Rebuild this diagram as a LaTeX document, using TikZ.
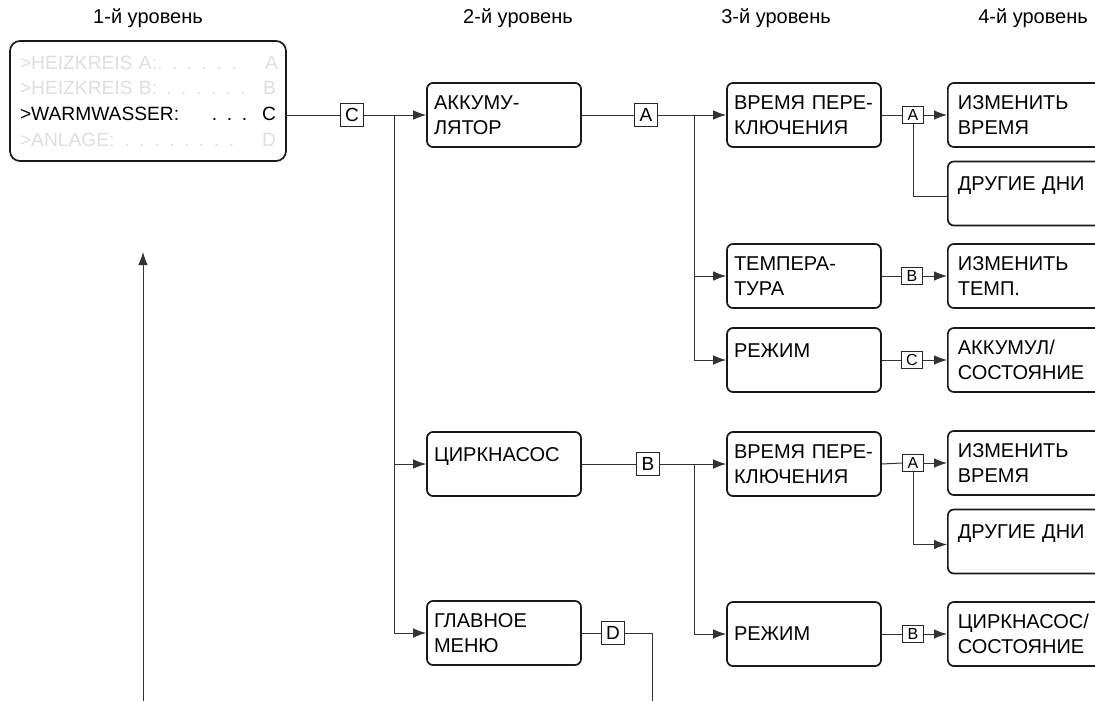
\documentclass[tikz,border=0pt]{standalone}
\usepackage{fontspec}
\setmainfont{Liberation Sans}
\usetikzlibrary{arrows.meta,calc}
\newcommand{\toponly}[1]{#1\\[-3pt]\mbox{}}
\newcommand{\menuline}[1]{\leavevmode\hbox to 128pt{#1}}
\tikzset{
  box/.style={draw=black!90, line width=0.85pt, rounded corners=3pt, align=left,
    text width=70pt, inner xsep=3.5pt, inner ysep=0pt, minimum height=32pt,
    font=\fontsize{10}{12.5}\selectfont},
  rbox/.style={box, text width=72pt, inner xsep=5pt, anchor=west},
  lbl/.style={draw=black!85, line width=0.5pt, minimum size=11.5pt, inner sep=0pt,
    font=\fontsize{9.5}{10}\selectfont},
  slbl/.style={draw=black!85, line width=0.5pt, minimum width=10.5pt, minimum height=8.5pt,
    inner sep=0pt, font=\fontsize{8}{9}\selectfont},
  conn/.style={draw=black!80, line width=0.5pt},
  arr/.style={conn, -{Latex[length=6.5pt,width=4.8pt]}},
  head/.style={font=\fontsize{10}{12}\selectfont}
}
\begin{document}
\begin{tikzpicture}[x=0.5pt,y=-0.5pt]
\useasboundingbox (0,0) rectangle (1095,701);
\clip (0,0) rectangle (1095,701);

% headings
\node[head] (h1) at (148,18) {1-й уровень};
\node[head] (h2) at (518,18) {2-й уровень};
\node[head] (h3) at (776,18) {3-й уровень};
\node[head] (h4) at (1033,18) {4-й уровень};

% level 1
\node[box, text width=128pt, inner xsep=5pt, minimum height=60pt, rounded corners=5pt,
      font=\fontsize{9.6}{12.85}\selectfont] (l1) at (148,101) {%
  \menuline{\color{black!13}>HEIZKREIS A:\hfill. . . . . .\hspace{14pt}A}\\
  \menuline{\color{black!13}>HEIZKREIS B:\hfill. . . . . .\hspace{8.5pt}B}\\
  \menuline{>WARMWASSER:\hfill. . .\hspace{7.5pt}C}\\
  \menuline{\color{black!13}>ANLAGE:\hfill. . . . . . . .\hspace{14pt}D}};

% level 2
\node[box] (b2a) at (504,115) {АККУМУ-\\ЛЯТОР};
\node[box] (b2b) at (504,464) {\toponly{ЦИРКНАСОС}};
\node[box] (b2c) at (504,633) {ГЛАВНОЕ\\МЕНЮ};

% level 3
\node[box] (b3a) at (804,115) {ВРЕМЯ~ПЕРЕ-\\КЛЮЧЕНИЯ};
\node[box] (b3b) at (804,276) {ТЕМПЕРА-\\ТУРА};
\node[box] (b3c) at (804,360) {\toponly{РЕЖИМ}};
\node[box] (b3d) at (804,464) {ВРЕМЯ~ПЕРЕ-\\КЛЮЧЕНИЯ};
\node[box] (b3e) at (804,634) {РЕЖИМ};

% level 4
\node[rbox] (b4a) at (947,115) {ИЗМЕНИТЬ\\ВРЕМЯ};
\node[rbox] (b4b) at (947,193.5) {\toponly{ДРУГИЕ~ДНИ}};
\node[rbox] (b4c) at (947,276) {ИЗМЕНИТЬ\\ТЕМП.};
\node[rbox] (b4d) at (947,360) {АККУМУЛ/\\СОСТОЯНИЕ};
\node[rbox] (b4e) at (947,463) {ИЗМЕНИТЬ\\ВРЕМЯ};
\node[rbox] (b4f) at (947,541.5) {\toponly{ДРУГИЕ~ДНИ}};
\node[rbox] (b4g) at (947,634) {ЦИРКНАСОС/\\СОСТОЯНИЕ};

% key labels
\node[lbl] (c1) at (352,115) {C};
\node[lbl] (la) at (646,115) {A};
\node[lbl] (lb) at (648,464) {B};
\node[lbl] (ld) at (613,633) {D};
\node[slbl] (sa1) at (913,115) {A};
\node[slbl] (sb1) at (912,276) {B};
\node[slbl] (sc1) at (912,360) {C};
\node[slbl] (sa2) at (913,463) {A};
\node[slbl] (sb2) at (913,634) {B};

% coordinates
\coordinate (j1) at (394,115);
\coordinate (j2) at (694,115);
\coordinate (j3) at (694,464);
\coordinate (dend) at (652,701);
\coordinate (rbot) at (143,701);
\coordinate (rtop) at (143,252);

% level 1 -> 2
\draw[conn] (l1.east |- c1) -- (c1.west);
\draw[arr] (c1.east) -- (b2a.west);
\draw[conn] (j1) -- (j1 |- b2c.west);
\draw[arr] (j1 |- b2b.west) -- (b2b.west);
\draw[arr] (j1 |- b2c.west) -- (b2c.west);

% level 2 -> 3
\draw[conn] (b2a.east) -- (la.west);
\draw[arr] (la.east) -- (b3a.west);
\draw[conn] (j2) -- (j2 |- b3c.west);
\draw[arr] (j2 |- b3b.west) -- (b3b.west);
\draw[arr] (j2 |- b3c.west) -- (b3c.west);

\draw[conn] (b2b.east) -- (lb.west);
\draw[arr] (lb.east) -- (b3d.west);
\draw[conn] (j3) -- (j3 |- b3e.west);
\draw[arr] (j3 |- b3e.west) -- (b3e.west);

\draw[conn] (b2c.east) -- (ld.west);
\draw[conn] (ld.east) -| (dend);

% level 3 -> 4
\draw[conn] (b3a.east) -- (sa1.west);
\draw[arr] (sa1.east) -- (b4a.west);
\draw[conn] (sa1.south) |- ([yshift=-1.5pt]b4b.west);
\draw[conn] (b3b.east) -- (sb1.west);
\draw[arr] (sb1.east) -- (b4c.west);
\draw[conn] (b3c.east) -- (sc1.west);
\draw[arr] (sc1.east) -- (b4d.west);
\draw[conn] (b3d.east) -- (sa2.west);
\draw[arr] (sa2.east) -- (b4e.west);
\draw[arr] (sa2.south) |- ([yshift=-1.5pt]b4f.west);
\draw[conn] (b3e.east) -- (sb2.west);
\draw[arr] (sb2.east) -- (b4g.west);

% return arrow
\draw[arr] (rbot) -- (rtop);
\end{tikzpicture}
\end{document}
